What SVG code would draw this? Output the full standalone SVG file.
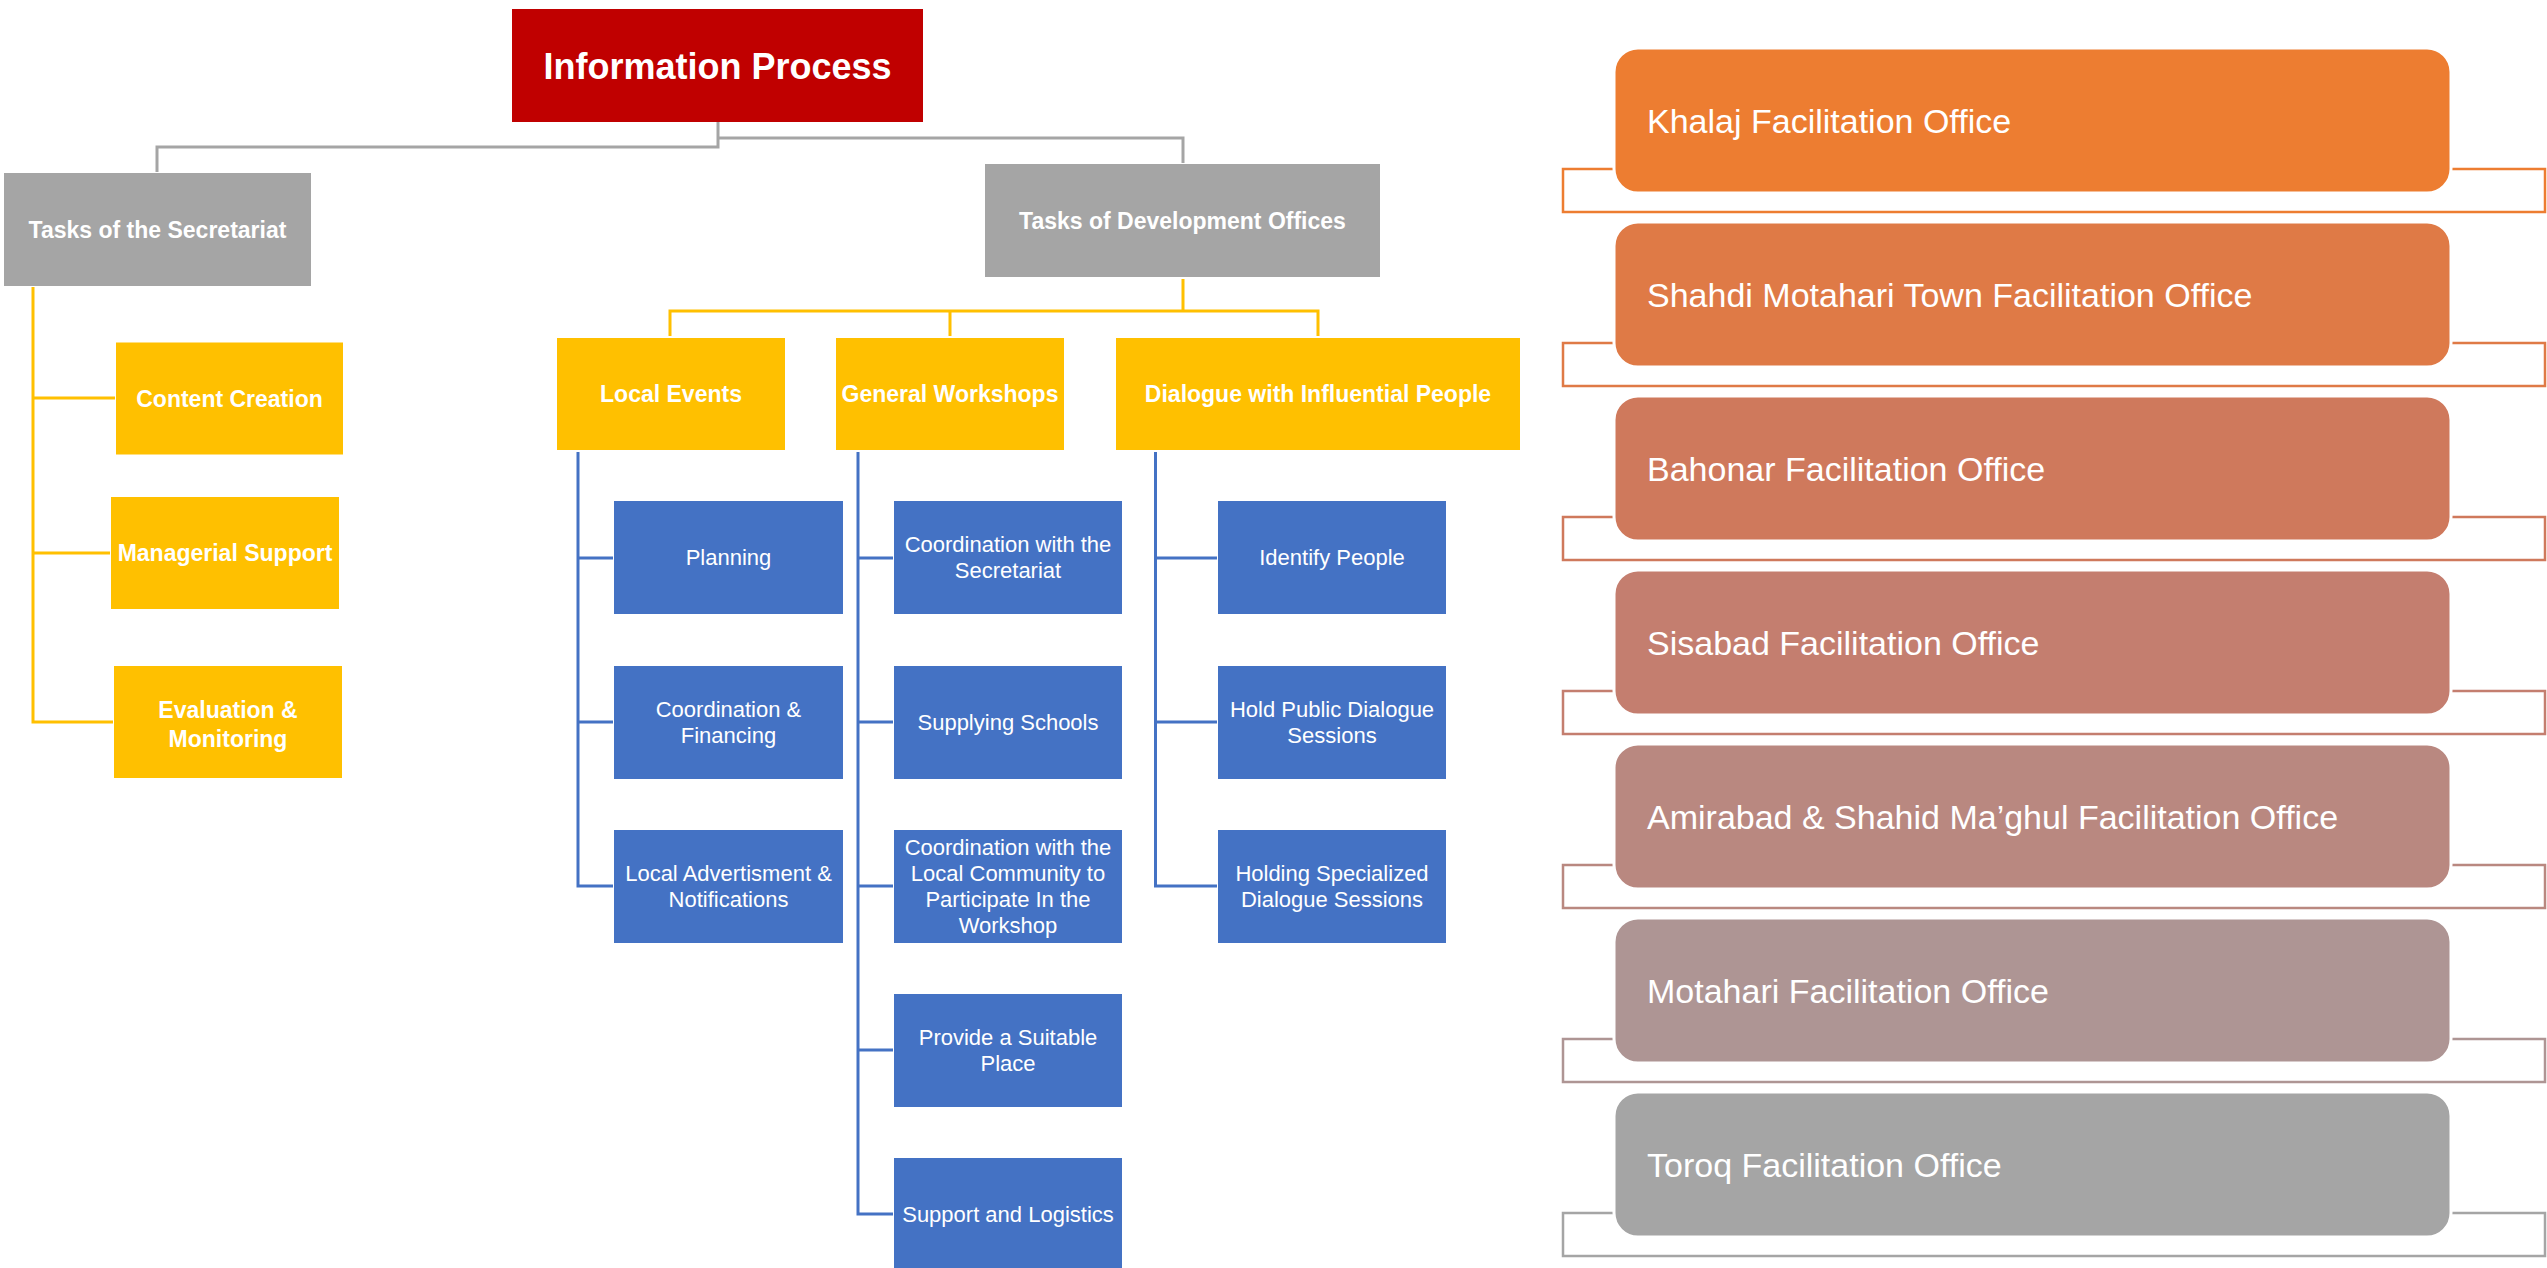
<svg xmlns="http://www.w3.org/2000/svg" width="2547" height="1268" viewBox="0 0 2547 1268">
<style>
text{font-family:"Liberation Sans",Arial,sans-serif;fill:#fff}
.b{font-weight:bold;font-size:23px;text-anchor:middle}
.t{font-size:22px;text-anchor:middle}
.f{font-size:34px}
.gray{fill:#A5A5A5}
.yel{fill:#FFC000}
.blue{fill:#4472C4}
.cg{stroke:#A5A5A5;stroke-width:3;fill:none}
.cy{stroke:#FFC000;stroke-width:3;fill:none}
.cb{stroke:#4472C4;stroke-width:3;fill:none}
.br{fill:none;stroke-width:2.5}
.fo{stroke:#fff;stroke-width:3}
</style>
<rect width="2547" height="1268" fill="#fff"/>
<g id="connectors">
<path class="cg" d="M718 122 V147 H157 V172"/>
<path class="cg" d="M718 138 H1183 V163"/>
<path class="cy" d="M1183 279 V311 M670 336 V311 H1318 V336 M950 311 V336"/>
<path class="cy" d="M33 287 V722 H113 M33 398 H115 M33 553 H110"/>
<path class="cb" d="M578 452 V886 H613 M578 558 H613 M578 722 H613"/>
<path class="cb" d="M858 452 V1214 H893 M858 558 H893 M858 722 H893 M858 886 H893 M858 1050 H893"/>
<path class="cb" d="M1155.5 452 V886 H1217 M1155.5 558 H1217 M1155.5 722 H1217"/>
</g>
<g id="info-process"><rect x="512" y="9" width="411" height="113" fill="#C00000"/><text x="717.5" y="78.5" style="font-weight:bold;font-size:36px;text-anchor:middle">Information Process</text></g>
<g id="tasks-secretariat"><rect class="gray" x="4" y="173" width="307" height="113"/><text class="b" x="157.5" y="237.7">Tasks of the Secretariat</text></g>
<g id="tasks-development"><rect class="gray" x="985" y="164" width="395" height="113"/><text class="b" x="1182.5" y="228.7">Tasks of Development Offices</text></g>
<g id="content-creation"><rect class="yel" x="116" y="342.5" width="227" height="112"/><text class="b" x="229.5" y="406.7">Content Creation</text></g>
<g id="managerial-support"><rect class="yel" x="111" y="497" width="228" height="112"/><text class="b" x="225" y="561.2">Managerial Support</text></g>
<g id="evaluation"><rect class="yel" x="114" y="666" width="228" height="112"/><text class="b" x="228" y="717.7">Evaluation &amp;</text><text class="b" x="228" y="746.7">Monitoring</text></g>
<g id="local-events"><rect class="yel" x="557" y="338" width="228" height="112"/><text class="b" x="671" y="402.2">Local Events</text></g>
<g id="general-workshops"><rect class="yel" x="836" y="338" width="228" height="112"/><text class="b" x="950" y="402.2">General Workshops</text></g>
<g id="dialogue"><rect class="yel" x="1116" y="338" width="404" height="112"/><text class="b" x="1318" y="402.2">Dialogue with Influential People</text></g>
<g id="planning"><rect class="blue" x="614" y="501" width="229" height="113"/><text class="t" x="728.5" y="565.4">Planning</text></g>
<g id="coord-financing"><rect class="blue" x="614" y="666" width="229" height="113"/><text class="t" x="728.5" y="717.4">Coordination &amp;</text><text class="t" x="728.5" y="743.4">Financing</text></g>
<g id="local-advert"><rect class="blue" x="614" y="830" width="229" height="113"/><text class="t" x="728.5" y="881.4">Local Advertisment &amp;</text><text class="t" x="728.5" y="907.4">Notifications</text></g>
<g id="coord-secretariat"><rect class="blue" x="894" y="501" width="228" height="113"/><text class="t" x="1008" y="552.4">Coordination with the</text><text class="t" x="1008" y="578.4">Secretariat</text></g>
<g id="supplying-schools"><rect class="blue" x="894" y="666" width="228" height="113"/><text class="t" x="1008" y="730.4">Supplying Schools</text></g>
<g id="coord-community"><rect class="blue" x="894" y="830" width="228" height="113"/><text class="t" x="1008" y="855.4">Coordination with the</text><text class="t" x="1008" y="881.4">Local Community to</text><text class="t" x="1008" y="907.4">Participate In the</text><text class="t" x="1008" y="933.4">Workshop</text></g>
<g id="suitable-place"><rect class="blue" x="894" y="994" width="228" height="113"/><text class="t" x="1008" y="1045.4">Provide a Suitable</text><text class="t" x="1008" y="1071.4">Place</text></g>
<g id="support-logistics"><rect class="blue" x="894" y="1158" width="228" height="113"/><text class="t" x="1008" y="1222.4">Support and Logistics</text></g>
<g id="identify-people"><rect class="blue" x="1218" y="501" width="228" height="113"/><text class="t" x="1332" y="565.4">Identify People</text></g>
<g id="public-dialogue"><rect class="blue" x="1218" y="666" width="228" height="113"/><text class="t" x="1332" y="717.4">Hold Public Dialogue</text><text class="t" x="1332" y="743.4">Sessions</text></g>
<g id="specialized-dialogue"><rect class="blue" x="1218" y="830" width="228" height="113"/><text class="t" x="1332" y="881.4">Holding Specialized</text><text class="t" x="1332" y="907.4">Dialogue Sessions</text></g>
<g id="office-khalaj"><rect class="br" x="1563" y="169" width="982" height="43" stroke="#ED7D31"/><rect class="fo" x="1614" y="48" width="837" height="145" rx="24" fill="#ED7D31"/><text class="f" x="1647" y="132.7">Khalaj Facilitation Office</text></g>
<g id="office-shahdi"><rect class="br" x="1563" y="343" width="982" height="43" stroke="#DF7A46"/><rect class="fo" x="1614" y="222" width="837" height="145" rx="24" fill="#DF7A46"/><text class="f" x="1647" y="306.7">Shahdi Motahari Town Facilitation Office</text></g>
<g id="office-bahonar"><rect class="br" x="1563" y="517" width="982" height="43" stroke="#CF795C"/><rect class="fo" x="1614" y="396" width="837" height="145" rx="24" fill="#CF795C"/><text class="f" x="1647" y="480.7">Bahonar Facilitation Office</text></g>
<g id="office-sisabad"><rect class="br" x="1563" y="691" width="982" height="43" stroke="#C47E6F"/><rect class="fo" x="1614" y="570" width="837" height="145" rx="24" fill="#C47E6F"/><text class="f" x="1647" y="654.7">Sisabad Facilitation Office</text></g>
<g id="office-amirabad"><rect class="br" x="1563" y="865" width="982" height="43" stroke="#B98880"/><rect class="fo" x="1614" y="744" width="837" height="145" rx="24" fill="#B98880"/><text class="f" x="1647" y="828.7">Amirabad &amp; Shahid Ma’ghul Facilitation Office</text></g>
<g id="office-motahari"><rect class="br" x="1563" y="1039" width="982" height="43" stroke="#AE9594"/><rect class="fo" x="1614" y="918" width="837" height="145" rx="24" fill="#AE9594"/><text class="f" x="1647" y="1002.7">Motahari Facilitation Office</text></g>
<g id="office-toroq"><rect class="br" x="1563" y="1213" width="982" height="43" stroke="#A5A5A5"/><rect class="fo" x="1614" y="1092" width="837" height="145" rx="24" fill="#A5A5A5"/><text class="f" x="1647" y="1176.7">Toroq Facilitation Office</text></g>
</svg>
